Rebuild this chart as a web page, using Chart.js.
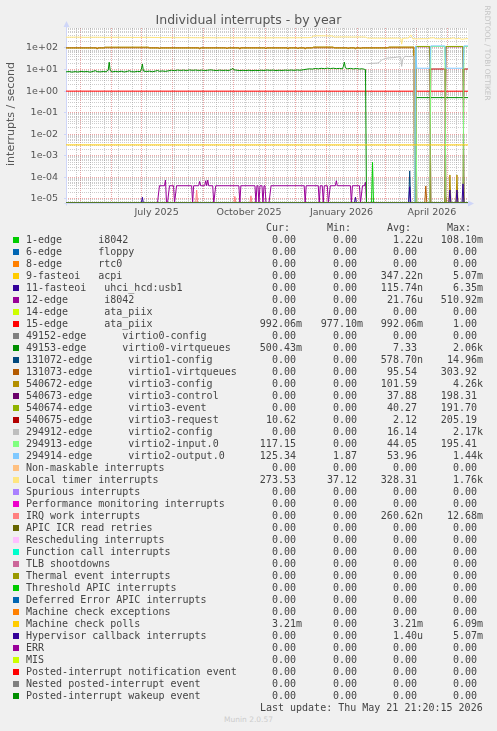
<!DOCTYPE html>
<html>
<head>
<meta charset="utf-8">
<title>Individual interrupts - by year</title>
<script src="https://cdn.jsdelivr.net/npm/chart.js@4.4.1/dist/chart.umd.min.js"></script>
<style>
html, body { margin:0; padding:0; background:#f0f0f0; }
#wrap { position:relative; width:497px; height:731px; overflow:hidden; background:#f0f0f0; }
#c { position:absolute; left:0; top:0; }
.txt { position:absolute; white-space:pre; font-family:'DejaVu Sans', sans-serif; color:#555; }
.mono { position:absolute; white-space:pre; font-family:'DejaVu Sans Mono', monospace; font-size:10px; line-height:12px; height:12px; color:#444; }
.sw { position:absolute; width:6px; height:6px; }
</style>
</head>
<body>
<div id="wrap">
<canvas id="c" width="497" height="226" style="width:497px;height:226px"></canvas>
<div class="txt" style="left:0;top:12px;width:497px;text-align:center;font-size:12.5px;line-height:15px;">Individual interrupts - by year</div>
<div class="txt" style="left:-89px;top:107px;width:200px;height:14px;text-align:center;font-size:11px;line-height:14px;transform:rotate(-90deg);">interrupts / second</div>
<div class="txt" style="left:427px;top:48px;width:120px;height:10px;text-align:center;font-size:7.4px;line-height:10px;color:#c4c4c4;transform:rotate(90deg);">RRDTOOL / TOBI OETIKER</div>
<div id="legend"></div>
<div class="txt" style="left:0;top:715px;width:497px;text-align:center;font-size:7.5px;line-height:10px;color:#cccccc;">Munin 2.0.57</div>
</div>
<script>
// ---------- axis definitions ----------
const END_MS = Date.UTC(2026, 4, 21, 21, 20, 15);
const SPAN_DAYS = 400;
const START_MS = END_MS - SPAN_DAYS * 86400000;
const Y_MIN = 6.5e-6;
const Y_MAX = 845;

const yTickValues = [1e-5, 1e-4, 1e-3, 1e-2, 1e-1, 1, 10, 100];
const yTickLabels = ['1e-05', '1e-04', '1e-03', '1e-02', '1e-01', '1e+00', '1e+01', '1e+02'];

const xLabelDates = [[2025, 7, 16], [2025, 10, 16], [2026, 1, 16], [2026, 4, 16]];
const xLabels = ['July 2025', 'October 2025', 'January 2026', 'April 2026'];
const monthGridFrom = [2025, 5];
const monthGridTo = [2026, 5];
const minorGridFrom = [2025, 4, 27];
const minorGridStepDays = 14;

// ---------- legend ----------
const seriesNames = [
  '1-edge      i8042', '6-edge      floppy', '8-edge      rtc0', '9-fasteoi   acpi',
  '11-fasteoi   uhci_hcd:usb1', '12-edge      i8042', '14-edge      ata_piix', '15-edge      ata_piix',
  '49152-edge      virtio0-config', '49153-edge      virtio0-virtqueues',
  '131072-edge      virtio1-config', '131073-edge      virtio1-virtqueues',
  '540672-edge      virtio3-config', '540673-edge      virtio3-control',
  '540674-edge      virtio3-event', '540675-edge      virtio3-request',
  '294912-edge      virtio2-config', '294913-edge      virtio2-input.0', '294914-edge      virtio2-output.0',
  'Non-maskable interrupts', 'Local timer interrupts', 'Spurious interrupts',
  'Performance monitoring interrupts', 'IRQ work interrupts', 'APIC ICR read retries',
  'Rescheduling interrupts', 'Function call interrupts', 'TLB shootdowns',
  'Thermal event interrupts', 'Threshold APIC interrupts', 'Deferred Error APIC interrupts',
  'Machine check exceptions', 'Machine check polls', 'Hypervisor callback interrupts',
  'ERR', 'MIS', 'Posted-interrupt notification event', 'Nested posted-interrupt event',
  'Posted-interrupt wakeup event'
];
const seriesColors = [
  '#00CC00', '#0066B3', '#FF8000', '#FFCC00', '#330099', '#990099', '#CCFF00', '#FF0000',
  '#808080', '#008F00', '#00487D', '#B35A00', '#B38F00', '#6B006B', '#8FB300', '#B30000',
  '#BEBEBE', '#80FF80', '#80C9FF', '#FFC080', '#FFE680', '#AA80FF', '#EE00CC', '#FF8080',
  '#666600', '#FFBFFF', '#00FFCC', '#CC6699', '#999900', '#00CC00', '#0066B3', '#FF8000',
  '#FFCC00', '#330099', '#990099', '#CCFF00', '#FF0000', '#808080', '#008F00'
];
const curVals = ['0.00','0.00','0.00','0.00','0.00','0.00','0.00','992.06m','0.00','500.43m','0.00','0.00','0.00','0.00','0.00','10.62','0.00','117.15','125.34','0.00','273.53','0.00','0.00','0.00','0.00','0.00','0.00','0.00','0.00','0.00','0.00','0.00','3.21m','0.00','0.00','0.00','0.00','0.00','0.00'];
const minVals = ['0.00','0.00','0.00','0.00','0.00','0.00','0.00','977.10m','0.00','0.00','0.00','0.00','0.00','0.00','0.00','0.00','0.00','0.00','1.87','0.00','37.12','0.00','0.00','0.00','0.00','0.00','0.00','0.00','0.00','0.00','0.00','0.00','0.00','0.00','0.00','0.00','0.00','0.00','0.00'];
const avgVals = ['1.22u','0.00','0.00','347.22n','115.74n','21.76u','0.00','992.06m','0.00','7.33','578.70n','95.54','101.59','37.88','40.27','2.12','16.14','44.05','53.96','0.00','328.31','0.00','0.00','260.62n','0.00','0.00','0.00','0.00','0.00','0.00','0.00','0.00','3.21m','1.40u','0.00','0.00','0.00','0.00','0.00'];
const maxVals = ['108.10m','0.00','0.00','5.07m','6.35m','510.92m','0.00','1.00','0.00','2.06k','14.96m','303.92','4.26k','198.31','191.70','205.19','2.17k','195.41','1.44k','0.00','1.76k','0.00','0.00','12.68m','0.00','0.00','0.00','0.00','0.00','0.00','0.00','0.00','6.09m','5.07m','0.00','0.00','0.00','0.00','0.00'];
const legendHeaders = ['Cur:', 'Min:', 'Avg:', 'Max:'];
const lastUpdate = 'Last update: Thu May 21 21:20:15 2026';

// ---------- series values: [day since start, rate per second] ----------
const zeroAll = [[0, 0], [400, 0]];
const s1edge = [[0,0],[304,0],[305,5e-4],[306,0],[400,0]];
const s11fasteoi = [[0,0],[75,0],[76,1.2e-5],[77,0],[287,0],[288,1.2e-5],[289,0],[400,0]];
const s12edge = [[0,0],[91,0],[93,4.1e-5],[98,4.1e-5],[99,7.5e-5],[100,0],[101,0],[103,4.1e-5],[107,4.1e-5],[108,0],[110,4.1e-5],[125,4.1e-5],[126,0],[127,4.1e-5],[132,4.1e-5],[133,6.5e-5],[134,4.1e-5],[138,4.1e-5],[139,7e-5],[140,4.1e-5],[141,7.5e-5],[142,4.1e-5],[146,4.1e-5],[147,0],[149,4.1e-5],[172,4.1e-5],[173,0],[174,4.1e-5],[188,4.1e-5],[189,0],[190,4.1e-5],[191,4.1e-5],[192,0],[193,4.1e-5],[195,4.1e-5],[196,0],[197,4.1e-5],[198,4.1e-5],[199,0],[202,0],[204,4.1e-5],[237,4.1e-5],[238,0],[239,4.1e-5],[251,4.1e-5],[252,0],[253,4.1e-5],[255,4.1e-5],[256,0],[257,4.1e-5],[260,4.1e-5],[261,0],[263,4.1e-5],[268,4.1e-5],[269,7e-5],[270,4.1e-5],[283,4.1e-5],[284,0],[285,4.1e-5],[292,4.1e-5],[293,0],[295,4.1e-5],[297,4.1e-5],[298,6e-5],[299,0],[400,0]];
const s15edge = [[0,1.0],[400,0.992]];
const s49153 = [[0,7.8],[3,8.1],[6,7.6],[9,8.0],[12,7.7],[15,8.2],[18,7.9],[21,8.1],[24,7.6],[27,8.2],[29,8.9],[31,8.0],[34,7.8],[37,8.1],[40,7.9],[42,9.5],[43,22],[44,9.0],[46,7.8],[49,8.2],[52,7.9],[55,8.3],[58,7.7],[61,8.2],[63,8.8],[65,8.0],[68,7.8],[71,8.2],[74,8.0],[75,10.5],[76,18],[77,8.6],[80,8.1],[83,8.4],[86,7.9],[89,8.5],[91,9.0],[93,8.3],[96,8.6],[99,8.2],[102,8.8],[105,9.3],[108,8.9],[111,9.5],[114,9.1],[117,9.4],[120,9.0],[123,9.6],[126,9.2],[129,9.5],[132,9.1],[135,9.4],[138,9.0],[141,9.3],[144,9.7],[147,9.2],[150,9.0],[153,9.4],[156,9.1],[159,9.3],[162,9.0],[165,10.4],[166,11.5],[167,9.7],[170,9.3],[173,9.0],[176,9.2],[179,9.0],[182,9.3],[185,8.9],[188,9.2],[191,9.0],[194,9.3],[197,9.1],[200,9.5],[203,9.2],[206,9.4],[209,9.0],[212,9.3],[215,9.1],[218,9.4],[221,9.2],[224,9.5],[227,9.2],[230,9.6],[233,9.3],[236,9.8],[239,10.3],[242,10.8],[245,10.5],[248,11.2],[251,10.8],[254,11.4],[257,11.0],[260,11.6],[263,11.1],[266,11.5],[269,11.0],[272,11.3],[275,10.8],[276,14],[277,22],[278,12],[280,10.9],[283,11.3],[286,10.7],[289,11.2],[292,10.6],[295,10.9],[297,10.2],[298,10.0],[299,0],[347,0],[348,0.5],[400,0.5]];
const s131072 = [[0,0],[341,0],[342,2e-4],[343,0],[400,0]];
const s131073 = [[0,102],[30,102],[31,88],[32,102],[92,102],[93,90],[94,102],[132,102],[133,88],[134,102],[159,102],[160,90],[161,102],[172,102],[173,88],[174,102],[198,102],[199,90],[200,102],[220,102],[221,88],[222,102],[230,102],[231,90],[232,102],[237,102],[238,88],[239,102],[280,102],[281,90],[282,102],[287,102],[288,88],[289,102],[292,102],[293,90],[294,102],[346,102],[347,0],[357,0],[358,4e-5],[359,0],[377,0],[378,1.2e-5],[379,0],[400,0]];
const s540672 = [[0,100],[38,100],[39,110],[82,110],[83,100],[245,100],[246,112],[266,112],[267,100],[320,100],[321,112],[346,112],[347,0],[381,0],[382,1.3e-4],[383,0],[388,0],[389,1.3e-4],[390,0],[400,0]];
const s540673 = [[0,0],[347,0],[348,115],[362,115],[363,0],[377,0],[378,115],[395,115],[396,0],[400,0]];
const s540674 = [[0,0],[347,0],[348,118],[362,118],[363,0],[377,0],[378,118],[395,118],[396,0],[400,0]];
const s540675 = [[0,0],[347,0],[348,10.6],[349,0],[362,0],[363,10.6],[377,10.6],[378,0],[395,0],[396,10.6],[400,10.6]];
const s294912 = [[300,19],[305,19.5],[310,20],[312,22],[314,28],[316,30],[318,33],[322,35],[326,36],[330,38],[333,39],[334,14],[335,30],[337,41],[341,40],[346,41],[347,0],[400,0]];
const s294913 = [[0,0],[347,0],[348,117],[349,0],[362,0],[363,117],[377,117],[378,0],[395,0],[396,117],[400,117]];
const s294914 = [[0,0],[347,0],[348,125],[349,11.5],[362,11.5],[363,125],[377,125],[378,11.5],[395,11.5],[396,125],[400,125]];
const sLocalTimer = [[0,315],[10,318],[20,312],[30,316],[40,310],[50,314],[60,311],[70,308],[80,311],[90,306],[100,304],[110,300],[120,302],[130,298],[140,300],[150,296],[160,299],[170,295],[180,298],[190,296],[200,294],[210,297],[220,295],[230,298],[240,300],[244,305],[246,355],[250,368],[258,364],[265,360],[267,322],[275,326],[285,321],[295,324],[298,318],[300,288],[310,286],[320,284],[330,288],[333,284],[334,150],[335,280],[341,290],[343,405],[345,268],[350,266],[356,270],[360,268],[363,292],[366,298],[368,270],[375,266],[382,272],[384,288],[386,296],[388,262],[391,282],[394,252],[397,266],[400,273]];
const sIrqWork = [[0,0],[129,0],[130,2.6e-5],[131,0],[167,0],[168,1.3e-5],[169,0],[183,0],[184,1.4e-5],[185,0],[400,0]];
const sMcePolls = [[0,3.21e-3],[400,3.21e-3]];
const sHypervisor = [[0,0],[341,0],[342,3.7e-5],[343,0],[381,0],[382,2.6e-5],[383,0],[388,0],[389,2.6e-5],[390,0],[394,0],[395,5e-5],[396,0],[400,0]];

const seriesData = [
  s1edge, zeroAll, zeroAll, zeroAll, s11fasteoi, s12edge, zeroAll, s15edge,
  zeroAll, s49153, s131072, s131073, s540672, s540673, s540674, s540675,
  s294912, s294913, s294914, zeroAll, sLocalTimer, zeroAll, zeroAll, sIrqWork,
  zeroAll, zeroAll, zeroAll, zeroAll, zeroAll, zeroAll, zeroAll, zeroAll,
  sMcePolls, sHypervisor, zeroAll, zeroAll, zeroAll, zeroAll, zeroAll
];

// ---------- x ticks ----------
function dayOf(y, m, d) { return (Date.UTC(y, m - 1, d) - START_MS) / 86400000; }
const xTickInfo = new Map();
function addTick(v, grid, label) {
  const k = v.toFixed(3);
  const cur = xTickInfo.get(k) || { value: v, grid: 'none', label: '' };
  if (grid === 'major' || (grid === 'minor' && cur.grid === 'none')) cur.grid = grid;
  if (label) cur.label = label;
  xTickInfo.set(k, cur);
}
{
  let y = monthGridFrom[0], m = monthGridFrom[1];
  while (y < monthGridTo[0] || (y === monthGridTo[0] && m <= monthGridTo[1])) {
    addTick(dayOf(y, m, 1), 'major', '');
    m++; if (m > 12) { m = 1; y++; }
  }
  for (let d = dayOf(...minorGridFrom); d < SPAN_DAYS; d += minorGridStepDays) addTick(d, 'minor', '');
  xLabelDates.forEach((dt, i) => addTick(dayOf(...dt), 'none', xLabels[i]));
}
const xTickList = [...xTickInfo.values()].filter(t => t.value > 0 && t.value < SPAN_DAYS).sort((a, b) => a.value - b.value);

const GRID_MAJOR = 'rgba(222,79,79,0.5)';
const GRID_MINOR = 'rgba(143,143,143,0.45)';
const AXIS_COLOR = '#CFD6F8';

function isDecade(v) { const l = Math.log10(v); return Math.abs(l - Math.round(l)) < 1e-6; }

const datasets = seriesData.map((pts, i) => ({
  label: seriesNames[i],
  data: pts.map(p => ({ x: p[0], y: p[1] > 0 ? p[1] : Y_MIN })),
  borderColor: seriesColors[i],
  backgroundColor: seriesColors[i],
  borderWidth: 1,
  pointRadius: 0,
  tension: 0,
  fill: false,
  order: -i
}));

const frame = {
  id: 'frame',
  beforeDraw(chart) {
    const { ctx, chartArea: a } = chart;
    ctx.save();
    ctx.fillStyle = '#ffffff';
    ctx.fillRect(a.left, a.top, a.right - a.left, a.bottom - a.top);
    ctx.restore();
  },
  beforeDatasetsDraw(chart) {
    const { ctx, chartArea: a } = chart;
    ctx.save();
    ctx.strokeStyle = AXIS_COLOR; ctx.fillStyle = AXIS_COLOR; ctx.lineWidth = 1;
    const x0 = Math.round(a.left) + 0.5, yb = Math.round(a.bottom) + 0.5;
    ctx.beginPath();
    ctx.moveTo(x0, yb + 2); ctx.lineTo(x0, a.top - 3);
    ctx.moveTo(x0 - 2, yb); ctx.lineTo(a.right + 2, yb);
    ctx.stroke();
    ctx.beginPath();
    ctx.moveTo(x0, a.top - 7); ctx.lineTo(x0 - 3, a.top - 1); ctx.lineTo(x0 + 3, a.top - 1); ctx.closePath(); ctx.fill();
    ctx.beginPath();
    ctx.moveTo(a.right + 6, yb); ctx.lineTo(a.right, yb - 3); ctx.lineTo(a.right, yb + 3); ctx.closePath(); ctx.fill();
    ctx.restore();
  }
};

Chart.defaults.font.family = "'DejaVu Sans', sans-serif";
new Chart(document.getElementById('c'), {
  type: 'line',
  data: { datasets },
  options: {
    responsive: false, animation: false, devicePixelRatio: 1,
    events: [],
    layout: { padding: { left: 0, right: 29, top: 28, bottom: 0 } },
    plugins: { legend: { display: false }, tooltip: { enabled: false }, title: { display: false } },
    scales: {
      x: {
        type: 'linear', min: 0, max: SPAN_DAYS,
        afterFit(s) { s.height = 23; },
        afterBuildTicks(s) { s.ticks = xTickList.map(t => ({ value: t.value })); },
        border: { display: false, dash: [1, 1] },
        grid: {
          drawTicks: false,
          lineWidth: 1,
          color(ctx) {
            if (!ctx.tick) return 'rgba(0,0,0,0)';
            const info = xTickInfo.get(ctx.tick.value.toFixed(3));
            if (!info || info.grid === 'none') return 'rgba(0,0,0,0)';
            return info.grid === 'major' ? GRID_MAJOR : GRID_MINOR;
          }
        },
        ticks: {
          autoSkip: false, maxRotation: 0, minRotation: 0, padding: 4,
          color: '#555', font: { size: 9.5 },
          callback(v) { const info = xTickInfo.get(Number(v).toFixed(3)); return info ? info.label : ''; }
        }
      },
      y: {
        type: 'logarithmic', min: Y_MIN, max: Y_MAX,
        afterFit(s) { s.width = 66; },
        afterBuildTicks(s) {
          const t = [];
          for (let e = -6; e <= 2; e++) for (let m = 1; m <= 9; m++) {
            const v = m * Math.pow(10, e);
            if (v >= Y_MIN && v <= Y_MAX) t.push({ value: v });
          }
          s.ticks = t;
        },
        border: { display: false, dash: [1, 1] },
        grid: {
          drawTicks: true, tickLength: 2, lineWidth: 1,
          tickColor(ctx) { return ctx.tick && isDecade(ctx.tick.value) ? AXIS_COLOR : 'rgba(0,0,0,0)'; },
          color(ctx) { return ctx.tick && isDecade(ctx.tick.value) ? GRID_MAJOR : GRID_MINOR; }
        },
        ticks: {
          autoSkip: false, padding: 6, color: '#555', font: { size: 9.5 },
          callback(v) {
            for (let i = 0; i < yTickValues.length; i++) {
              if (Math.abs(Math.log10(v) - Math.log10(yTickValues[i])) < 1e-6) return yTickLabels[i];
            }
            return '';
          }
        }
      }
    }
  },
  plugins: [frame]
});

// ---------- legend (HTML text) ----------
const leg = document.getElementById('legend');
const ROW0 = 239.7, ROWH = 12;
const numRight = [296, 357, 417, 477];
const headRight = [290, 351, 411, 471];
function mk(cls, css, text) {
  const d = document.createElement('div');
  d.className = cls; d.style.cssText = css; if (text !== undefined) d.textContent = text;
  leg.appendChild(d); return d;
}
legendHeaders.forEach((h, c) => {
  mk('mono', `left:${headRight[c] - 100}px;top:${ROW0 - ROWH - 6}px;width:100px;text-align:right;`, h);
});
const cols = [curVals, minVals, avgVals, maxVals];
seriesNames.forEach((name, i) => {
  const cy = ROW0 + ROWH * i;
  mk('sw', `left:13px;top:${cy - 3}px;background:${seriesColors[i]};`);
  mk('mono', `left:26px;top:${cy - 6}px;`, name);
  cols.forEach((arr, c) => {
    const m = /^([0-9.]+)([a-zA-Z]?)$/.exec(arr[i]);
    const txt = m[1] + (m[2] || ' ');
    mk('mono', `left:${numRight[c] + 6 - 120}px;top:${cy - 6}px;width:120px;text-align:right;`, txt);
  });
});
mk('mono', `left:${482.7 - 300}px;top:${707.7 - 6}px;width:300px;text-align:right;`, lastUpdate);
</script>
</body>
</html>
